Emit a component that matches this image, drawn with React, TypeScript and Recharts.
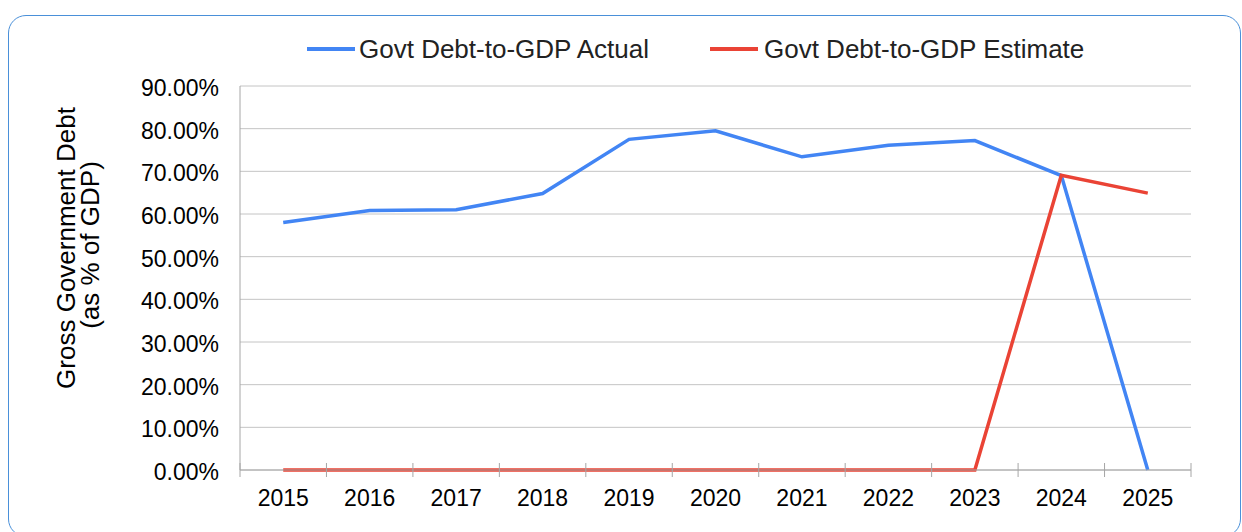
import { LineChart, Line, XAxis, YAxis, CartesianGrid } from "recharts"

const years = ["2015", "2016", "2017", "2018", "2019", "2020", "2021", "2022", "2023", "2024", "2025"]
const actual = [58.0, 60.8, 61.0, 64.8, 77.5, 79.5, 73.4, 76.1, 77.2, 69.0, 0]
const estimate = [0, 0, 0, 0, 0, 0, 0, 0, 0, 69.1, 64.9]
const yTicks = [0, 10, 20, 30, 40, 50, 60, 70, 80, 90]

const BLUE = "#4285f4"
const RED = "#ea4335"
const FONT = "'Liberation Sans', Arial, sans-serif"

// tick label plus the band boundary marks that cross the axis line
function YearTick(props: any) {
  const { x, y, payload, index } = props
  const half = payload && payload.offset ? payload.offset : 951 / years.length / 2
  const left = x - half
  return (
    <g>
      <line x1={left} x2={left} y1={y - 7} y2={y + 7} stroke="#a6a6a6" strokeWidth={1} />
      {index === years.length - 1 && (
        <line x1={x + half} x2={x + half} y1={y - 7} y2={y + 7} stroke="#a6a6a6" strokeWidth={1} />
      )}
      <text x={x} y={y + 36} textAnchor="middle" fontSize={23} fill="#000" fontFamily={FONT}>
        {payload.value}
      </text>
    </g>
  )
}

function YTitle() {
  return (
    <text transform="rotate(-90)" textAnchor="middle" fontSize={26} fill="#000" fontFamily={FONT}>
      <tspan x={-248} y={75}>Gross Government Debt</tspan>
      <tspan x={-245} y={99}>(as % of GDP)</tspan>
    </text>
  )
}

function LegendItem({ color, label, gap }: { color: string; label: string; gap: number }) {
  return (
    <div style={{ display: "flex", alignItems: "center" }}>
      <div style={{ width: 48, height: 4, background: color, marginRight: gap }} />
      <span style={{ fontSize: 26, fontFamily: FONT, color: "#222", lineHeight: "30px" }}>{label}</span>
    </div>
  )
}

export default function App() {
  const data = years.map((year, i) => ({ year, actual: actual[i], estimate: estimate[i] }))

  return (
    <div style={{ position: "absolute", left: 0, top: 0, width: 1242, height: 532, overflow: "hidden", background: "#fff" }}>
      <div
        style={{
          position: "absolute",
          left: 8,
          top: 15,
          width: 1233,
          height: 522,
          border: "1.5px solid #4a90d9",
          borderRadius: 18,
          boxSizing: "border-box",
        }}
      />
      <div style={{ position: "absolute", left: 307, top: 34, display: "flex", alignItems: "center" }}>
        <LegendItem color={BLUE} label="Govt Debt-to-GDP Actual" gap={4} />
        <div style={{ width: 61 }} />
        <LegendItem color={RED} label="Govt Debt-to-GDP Estimate" gap={6} />
      </div>
      <div style={{ position: "absolute", left: 0, top: 0 }}>
        <LineChart width={1242} height={532} data={data} margin={{ top: 86, right: 51, left: 160, bottom: 12 }}>
          <CartesianGrid vertical={false} stroke="#c4c4c4" strokeWidth={1} />
          <XAxis
            dataKey="year"
            scale="band"
            height={50}
            stroke="#a6a6a6"
            tickLine={false}
            tickSize={0}
            tickMargin={0}
            interval={0}
            tick={<YearTick />}
          />
          <YAxis
            width={80}
            domain={[0, 90]}
            ticks={yTicks}
            interval={0}
            stroke="#a6a6a6"
            tickLine={false}
            tickSize={0}
            tickMargin={21}
            tickFormatter={(v: number) => `${v.toFixed(2)}%`}
            tick={{ fontSize: 23, fill: "#000", fontFamily: FONT, dy: 2 }}
            label={{ content: <YTitle /> }}
          />
          <Line
            type="linear"
            dataKey="actual"
            stroke={BLUE}
            strokeWidth={3.5}
            dot={false}
            isAnimationActive={false}
          />
          <Line
            type="linear"
            dataKey="estimate"
            stroke={RED}
            strokeWidth={3.5}
            dot={false}
            isAnimationActive={false}
          />
        </LineChart>
      </div>
    </div>
  )
}
